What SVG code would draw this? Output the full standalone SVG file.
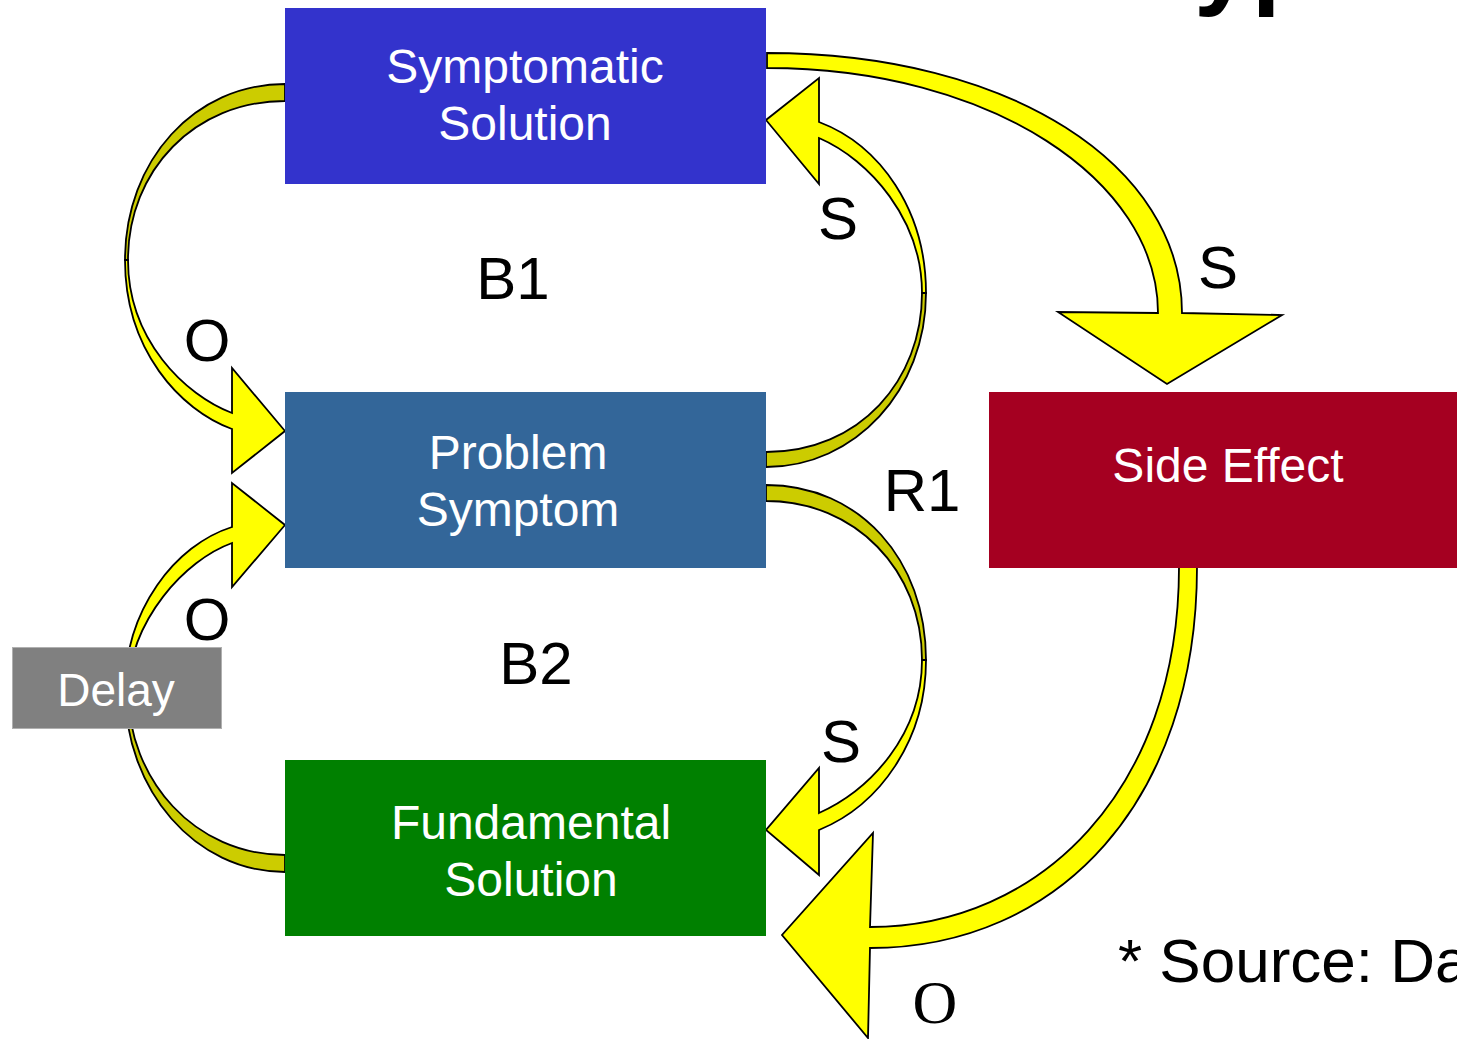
<svg xmlns="http://www.w3.org/2000/svg" width="1457" height="1039" viewBox="0 0 1457 1039">
<style>
.box text{font-family:"Liberation Sans",Arial,sans-serif;fill:#fff;text-anchor:middle;font-size:48px}
.lbl{font-family:"Liberation Sans",Arial,sans-serif;fill:#000;text-anchor:middle;font-size:60px}
.y{fill:#FFFF00;stroke:#000;stroke-width:1.8;stroke-linejoin:miter}
.d{fill:#CCCC00;stroke:#000;stroke-width:1.8}
</style>
<rect width="1457" height="1039" fill="#fff"/>
<text x="1194" y="-5" font-family="Liberation Sans,Arial,sans-serif" font-weight="bold" font-size="104" fill="#000">yp</text>
<g id="connectors">
  <path class="d" d="M285,84 C195,84 125,160 125,260 L128,260 C128,170 195,101 285,101 Z"/>
  <path class="y" d="M125,260 C125,350 180,410 232,429 L232,473 L285,431 L232,368 L232,413 C185,395 128,340 128,260 Z"/>
  <path class="d" d="M766,452 C860,452 922,380 922,293 L926,293 C926,390 855,467 766,467 Z"/>
  <path class="y" d="M926,293 C926,210 880,145 819,122 L819,78 L766,120 L819,184 L819,138 C870,160 922,220 922,293 Z"/>
  <path class="y" d="M767,53 C1010,53 1182,165 1182,313 L1282,315 L1167,384 L1058,312 L1158,313 C1158,180 990,68 767,68 Z"/>
  <path class="d" d="M766,485 C860,485 926,560 926,660 L922,660 C922,570 855,501 766,501 Z"/>
  <path class="y" d="M926,660 C926,740 880,805 819,830 L819,875 L766,830 L819,768 L819,813 C870,790 922,735 922,660 Z"/>
  <path class="y" d="M1197,567 C1197,800 1060,948 870,948 L868,1038 L782,935 L873,833 L870,927 C1040,927 1179,790 1179,567 Z"/>
  <path class="d" d="M285,855 C195,855 128,780 128,690 L125,690 C125,790 195,872 285,872 Z"/>
  <path class="y" d="M125,690 C125,610 175,545 232,527 L232,483 L285,525 L232,587 L232,543 C185,560 130,620 128,690 Z"/>
</g>
<g id="symptomatic-solution" class="box">
  <rect x="285" y="8" width="481" height="176" fill="#3333CC"/>
  <text x="525" y="83">Symptomatic</text>
  <text x="525" y="140">Solution</text>
</g>
<g id="problem-symptom" class="box">
  <rect x="285" y="392" width="481" height="176" fill="#336699"/>
  <text x="518" y="469">Problem</text>
  <text x="518" y="526">Symptom</text>
</g>
<g id="fundamental-solution" class="box">
  <rect x="285" y="760" width="481" height="176" fill="#008000"/>
  <text x="531" y="839">Fundamental</text>
  <text x="531" y="896">Solution</text>
</g>
<g id="side-effect" class="box">
  <rect x="989" y="392" width="481" height="176" fill="#A50021"/>
  <text x="1228" y="482">Side Effect</text>
</g>
<g id="delay" class="box">
  <rect x="12.5" y="647.5" width="209" height="81" fill="#808080" stroke="#B0B0B0" stroke-width="1"/>
  <text x="116" y="706" style="font-size:46px">Delay</text>
</g>
<g id="labels">
  <text class="lbl" x="513" y="299">B1</text>
  <text class="lbl" x="207" y="361">O</text>
  <text class="lbl" x="838" y="239">S</text>
  <text class="lbl" x="1218" y="288">S</text>
  <text class="lbl" x="922" y="511">R1</text>
  <text class="lbl" x="207" y="640">O</text>
  <text class="lbl" x="536" y="684">B2</text>
  <text class="lbl" x="841" y="762">S</text>
  <text x="935" y="1023" font-family="Liberation Serif,Times New Roman,serif" font-size="62" text-anchor="middle" fill="#000">O</text>
  <text x="1118" y="982" font-family="Liberation Sans,Arial,sans-serif" font-size="62" fill="#000">* Source: Da</text>
</g>
</svg>
